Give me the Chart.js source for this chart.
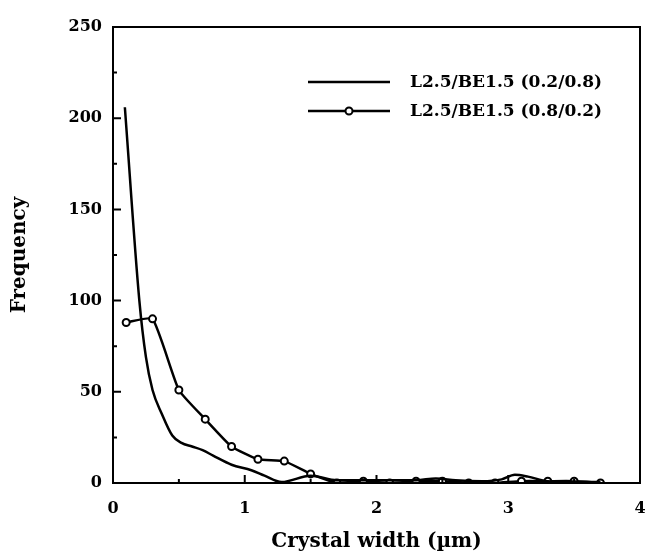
<!DOCTYPE html>
<html><head><meta charset="utf-8">
<script src="https://cdn.jsdelivr.net/npm/chart.js@4"></script>
<style>html,body{margin:0;padding:0;background:#fff}</style>
</head><body>
<canvas id="c" width="649" height="556"></canvas>
<script>
const seriesLabels = ['L2.5/BE1.5 (0.2/0.8)', 'L2.5/BE1.5 (0.8/0.2)'];
const smoothX = [0.09, 0.2, 0.25, 0.3, 0.37, 0.45, 0.52, 0.6, 0.68, 0.76, 0.9, 1.05, 1.15, 1.28, 1.5, 1.7, 2.0, 2.3, 2.45, 2.6, 2.8, 2.95, 3.05, 3.15, 3.3, 3.5, 3.7];
const smoothY = [206, 100, 69, 51, 38, 26, 22, 20, 18, 15, 10, 7, 4, 0.5, 4, 1.5, 1.5, 1.5, 2.5, 1.5, 1, 2, 4.5, 3.5, 1, 0.8, 0.5];
const circleX = [0.1, 0.3, 0.5, 0.7, 0.9, 1.1, 1.3, 1.5, 1.7, 1.9, 2.1, 2.3, 2.5, 2.7, 2.9, 3.1, 3.3, 3.5, 3.7];
const circleY = [88, 90, 51, 35, 20, 13, 12, 5, 0, 1, 0, 1, 1, 0, 0, 1, 1, 1, 0];
const yMajor = [0, 50, 100, 150, 200, 250];
const yMinor = [25, 75, 125, 175, 225];
const xMajor = [0, 1, 2, 3, 4];
const xMinor = [0.5, 1.5, 2.5, 3.5];
const xTitle = 'Crystal width (\u00b5m)';
const yTitle = 'Frequency';

const FONT = '"DejaVu Serif", "Liberation Serif", serif';

const decor = {
  id: 'decor',
  afterDatasetsDraw(chart) {
    const ctx = chart.ctx, a = chart.chartArea;
    const xs = chart.scales.x, ys = chart.scales.y;
    ctx.save();
    ctx.strokeStyle = '#000';
    ctx.lineWidth = 2;
    ctx.strokeRect(a.left, a.top, a.right - a.left, a.bottom - a.top);
    ctx.beginPath();
    yMajor.forEach(v => { const p = ys.getPixelForValue(v); ctx.moveTo(a.left, p); ctx.lineTo(a.left + 8, p); });
    yMinor.forEach(v => { const p = ys.getPixelForValue(v); ctx.moveTo(a.left, p); ctx.lineTo(a.left + 4, p); });
    xMajor.forEach(v => { const p = xs.getPixelForValue(v); ctx.moveTo(p, a.bottom); ctx.lineTo(p, a.bottom - 8); });
    xMinor.forEach(v => { const p = xs.getPixelForValue(v); ctx.moveTo(p, a.bottom); ctx.lineTo(p, a.bottom - 4); });
    ctx.stroke();
    // legend
    const lx0 = 308, lx1 = 390, tx = 410;
    const rows = [82, 111];
    ctx.font = 'bold 17px ' + FONT;
    ctx.fillStyle = '#000';
    ctx.textBaseline = 'middle';
    ctx.textAlign = 'left';
    rows.forEach((y, i) => {
      ctx.lineWidth = 2.5;
      ctx.beginPath(); ctx.moveTo(lx0, y); ctx.lineTo(lx1, y); ctx.stroke();
      if (i === 1) {
        ctx.beginPath(); ctx.arc((lx0 + lx1) / 2, y, 3.5, 0, Math.PI * 2);
        ctx.fillStyle = '#fff'; ctx.fill(); ctx.lineWidth = 2; ctx.stroke();
        ctx.fillStyle = '#000';
      }
      ctx.fillText(chart.data.datasets[i].label, tx, y + 1);
    });
    ctx.restore();
  }
};

new Chart(document.getElementById('c'), {
  type: 'line',
  data: {
    datasets: [
      {
        label: seriesLabels[0],
        data: smoothX.map((x, i) => ({ x, y: smoothY[i] })),
        borderColor: '#000', borderWidth: 2.5, pointRadius: 0,
        cubicInterpolationMode: 'monotone', fill: false
      },
      {
        label: seriesLabels[1],
        data: circleX.map((x, i) => ({ x, y: circleY[i] })),
        borderColor: '#000', borderWidth: 2.5, tension: 0.15,
        pointRadius: 3.5, pointBorderWidth: 2, pointBackgroundColor: '#fff', pointBorderColor: '#000',
        fill: false
      }
    ]
  },
  options: {
    responsive: false, maintainAspectRatio: false, animation: false, devicePixelRatio: 1,
    layout: { padding: { top: 27, right: 9, bottom: 0, left: 0 } },
    plugins: { legend: { display: false }, title: { display: false }, tooltip: { enabled: false } },
    scales: {
      x: {
        type: 'linear', min: 0, max: 4,
        grid: { display: false, drawTicks: false }, border: { display: false },
        ticks: { stepSize: 1, color: '#000', padding: 16, font: { family: FONT, size: 16, weight: 'bold' } },
        title: { display: true, text: xTitle, color: '#000', padding: { top: 0, bottom: 2 }, font: { family: FONT, size: 20, weight: 'bold' } },
        afterFit(s) { s.height = 73; s.paddingRight = 0; s.paddingLeft = 0; }
      },
      y: {
        type: 'linear', min: 0, max: 250,
        grid: { display: false, drawTicks: false }, border: { display: false },
        ticks: { stepSize: 50, color: '#000', padding: 11, font: { family: FONT, size: 16, weight: 'bold' } },
        title: { display: true, text: yTitle, color: '#000', padding: { top: 8, bottom: 0 }, font: { family: FONT, size: 20, weight: 'bold' } },
        afterFit(s) { s.width = 113; s.paddingTop = 0; s.paddingBottom = 0; }
      }
    }
  },
  plugins: [decor]
});
</script>
</body></html>
